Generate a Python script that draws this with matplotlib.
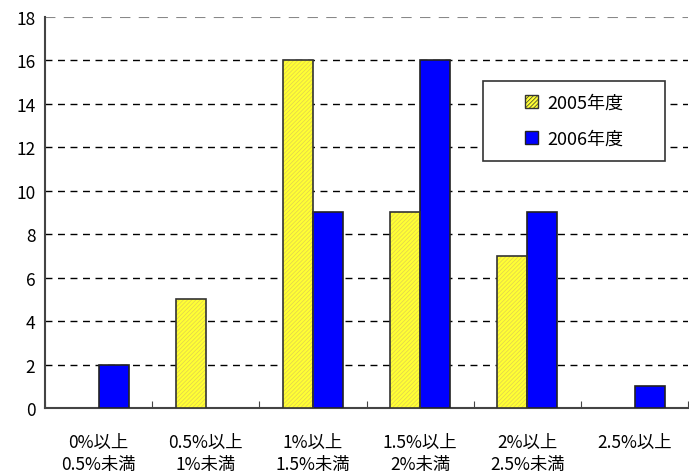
import matplotlib
matplotlib.use("Agg")
import matplotlib.pyplot as plt
import numpy as np
from matplotlib.patches import Patch, Rectangle

plt.rcParams['font.family'] = ['Noto Sans CJK JP', 'DejaVu Sans']
plt.rcParams['hatch.linewidth'] = 0.5

categories = ["0%以上\n0.5%未満", "0.5%以上\n1%未満", "1%以上\n1.5%未満",
              "1.5%以上\n2%未満", "2%以上\n2.5%未満", "2.5%以上"]
series_2005 = [0, 5, 16, 9, 7, 0]
series_2006 = [2, 0, 9, 16, 9, 1]
labels = ["2005年度", "2006年度"]
yticks = [0, 2, 4, 6, 8, 10, 12, 14, 16, 18]

fig = plt.figure(figsize=(6.89, 4.77), dpi=100)
ax = fig.add_axes([0.0653, 0.1426, 0.9335, 0.8197])

x = np.arange(len(categories))
w = 0.28
lw05 = [1.2 if v > 0 else 0 for v in series_2005]
lw06 = [1.2 if v > 0 else 0 for v in series_2006]
ax.bar(x - w/2, series_2005, w, color='#ffff33', edgecolor='#e0d050', hatch='////////', linewidth=0, zorder=3)
ax.bar(x - w/2, series_2005, w, fill=False, edgecolor='#333333', linewidth=lw05, zorder=4)
ax.bar(x + w/2, series_2006, w, color='#0000ff', edgecolor='#222222', linewidth=lw06, zorder=3)

ax.set_xlim(-0.5, len(categories) - 0.5)
ax.set_ylim(0, 18)
ax.set_yticks(yticks)
ax.set_yticklabels([str(v) for v in yticks], fontsize=12.5)
ax.tick_params(axis='y', length=0, pad=7)
ax.yaxis.grid(True, linestyle=(0, (5, 4)), color='black', linewidth=1.0, zorder=0)
ax.set_axisbelow(True)

ax.set_xticks(np.arange(len(categories) + 1) - 0.5, minor=False)
ax.set_xticklabels([])
ax.tick_params(axis='x', direction='in', length=5, color='#444444')
ax.set_xticks(x, minor=True)
ax.set_xticklabels(categories, minor=True, fontsize=12.5, linespacing=1.3)
ax.tick_params(axis='x', which='minor', length=0, pad=18)

for s in ['top', 'right']:
    ax.spines[s].set_visible(False)
ax.spines['left'].set_color('#444444')
ax.spines['left'].set_linewidth(1.5)
ax.spines['bottom'].set_color('#444444')
ax.spines['bottom'].set_linewidth(1.5)
ax.axhline(18, color='#888888', linestyle=(0, (5, 4)), linewidth=1.5, zorder=1)
ax.get_ygridlines()[-1].set_visible(False)

# legend box
ax.add_patch(Rectangle((0.681, 0.632), 0.283, 0.204, transform=ax.transAxes,
                       facecolor='white', edgecolor='#333333', linewidth=1.2, zorder=5))
handles = [Patch(facecolor='#ffff33', edgecolor='#333333', hatch='////////'),
           Patch(facecolor='#0000ff', edgecolor='#222222')]
leg = ax.legend(handles, labels, loc='center', bbox_to_anchor=(0.8227, 0.734),
                fontsize=13, frameon=False,
                handlelength=0.75, handleheight=0.75, handletextpad=0.5,
                labelspacing=1.0, borderpad=0, borderaxespad=0)
leg.set_zorder(6)

fig.savefig("out.png", dpi=100)
